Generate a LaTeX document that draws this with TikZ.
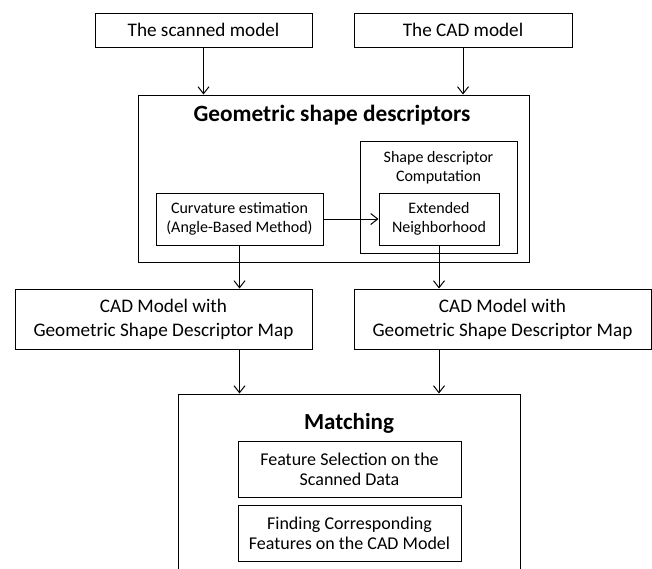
\documentclass[tikz,border=0pt]{standalone}
\usepackage{fontspec}
\setmainfont{Carlito}
\usetikzlibrary{arrows.meta}
\begin{document}
\begin{tikzpicture}[x=1pt,y=-1pt,
  box/.style={draw=black,line width=1pt,inner sep=0pt,align=center},
  lbl/.style={inner sep=0pt,align=center},
  arr/.style={draw=black,line width=1pt,-{Straight Barb[length=7pt,width=11pt,line width=1pt]}},
  ln/.style={draw=black,line width=1pt}]
\useasboundingbox (0,0) rectangle (652,568);
\clip (0,0) rectangle (652,568);
% top boxes
\node[box,minimum width=217pt,minimum height=34pt,font=\fontsize{19.2}{22}\selectfont] (scan) at (203.5,30) {The scanned model};
\node[box,minimum width=218pt,minimum height=34pt,font=\fontsize{19.2}{22}\selectfont] (cad) at (463,30) {The CAD model};
% geometric shape descriptors
\node[box,minimum width=391pt,minimum height=167pt] (geo) at (333.5,178.5) {};
\node[lbl,font=\fontsize{23.3}{27}\selectfont\bfseries] (geot) at (332,115) {Geometric shape descriptors};
\node[box,minimum width=157pt,minimum height=112pt] (sd) at (438.5,197) {};
\node[lbl,font=\fontsize{16}{19}\selectfont] (sdt) at (438.5,167.5) {Shape descriptor\\Computation};
\node[box,minimum width=167pt,minimum height=52pt,font=\fontsize{16}{19}\selectfont] (curv) at (239.5,219) {Curvature estimation\\(Angle-Based Method)};
\node[box,minimum width=120pt,minimum height=52pt,font=\fontsize{16}{19}\selectfont] (ext) at (439,219) {Extended\\Neighborhood};
% CAD model maps
\node[box,minimum width=297pt,minimum height=60pt,font=\fontsize{19.2}{24}\selectfont] (mapl) at (163.5,319) {CAD Model with\\Geometric Shape Descriptor Map};
\node[box,minimum width=297pt,minimum height=60pt,font=\fontsize{19.2}{24}\selectfont] (mapr) at (502.5,319) {CAD Model with\\Geometric Shape Descriptor Map};
% matching
\node[box,minimum width=342pt,minimum height=200pt] (match) at (349,494) {};
\node[lbl,font=\fontsize{23}{27}\selectfont\bfseries] (matcht) at (349,423) {Matching};
\node[box,minimum width=223pt,minimum height=56pt,font=\fontsize{18}{20}\selectfont] (fs) at (349.5,469) {Feature Selection on the\\Scanned Data};
\node[box,minimum width=223pt,minimum height=56pt,font=\fontsize{18}{20}\selectfont] (fc) at (349.5,533) {Finding Corresponding\\Features on the CAD Model};
% connectors
\draw[arr] (scan.south) -- (scan.south |- geo.north);
\draw[arr] (cad.south) -- (cad.south |- geo.north);
\draw[arr] (curv.east) -- (ext.west);
\draw[arr] (curv.south) -- (curv.south |- mapl.north);
\draw[arr] (ext.south) -- (ext.south |- mapr.north);
\draw[arr] (curv.south |- mapl.south) -- (curv.south |- match.north);
\draw[arr] (ext.south |- mapr.south) -- (ext.south |- match.north);
\end{tikzpicture}
\end{document}
